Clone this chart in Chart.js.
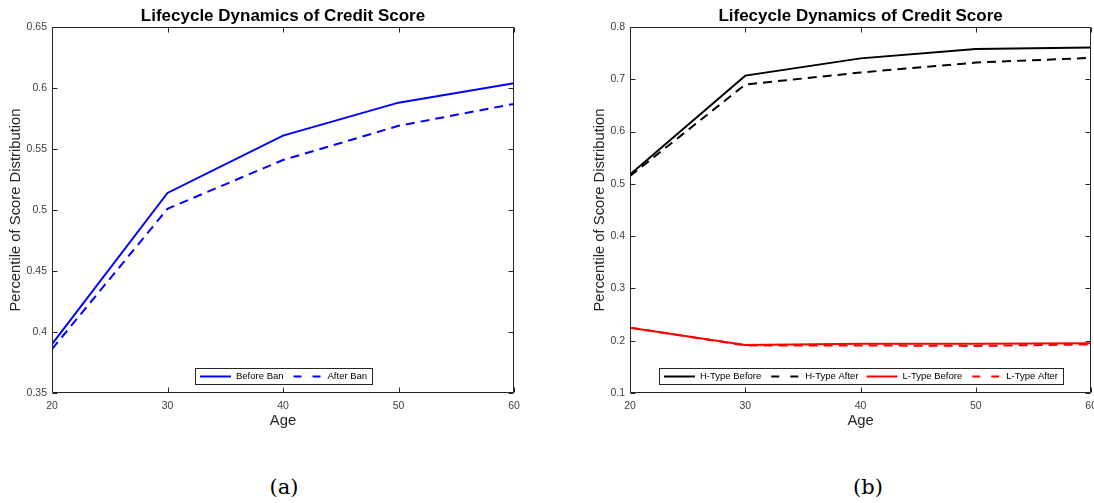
<!DOCTYPE html>
<html>
<head>
<meta charset="utf-8">
<script src="https://cdn.jsdelivr.net/npm/chart.js@4/dist/chart.umd.min.js"></script>
<style>
  html, body { margin: 0; padding: 0; background: #fff; }
  body { width: 1094px; height: 503px; position: relative; overflow: hidden; }
  canvas { position: absolute; top: 0; }
  #c1 { left: 0; }
  #c2 { left: 577px; }
  .cap { position: absolute; top: 475px; font-family: "DejaVu Serif", "Liberation Serif", serif; font-size: 21px; color: #000; transform: translateX(-50%); }
</style>
</head>
<body>
<canvas id="c1" width="547" height="440"></canvas>
<canvas id="c2" width="527" height="440"></canvas>
<div class="cap" style="left:284px">(a)</div>
<div class="cap" style="left:868px">(b)</div>
<script>
// ---- Data ----
const ages = [20, 30, 40, 50, 60];
const beforeBan = [0.390, 0.514, 0.561, 0.588, 0.604];
const afterBan  = [0.386, 0.501, 0.541, 0.569, 0.587];

const hTypeBefore = [0.518, 0.707, 0.740, 0.758, 0.761];
const hTypeAfter  = [0.515, 0.690, 0.713, 0.732, 0.741];
const lTypeBefore = [0.225, 0.192, 0.194, 0.194, 0.195];
const lTypeAfter  = [0.225, 0.191, 0.191, 0.190, 0.193];

const leftTicksY = [0.35, 0.4, 0.45, 0.5, 0.55, 0.6, 0.65];
const rightTicksY = [0.1, 0.2, 0.3, 0.4, 0.5, 0.6, 0.7, 0.8];

const chartTitle = 'Lifecycle Dynamics of Credit Score';
const xTitle = 'Age';
const yTitle = 'Percentile of Score Distribution';

// ---- Setup ----
const FONT = '"Liberation Sans", Arial, Helvetica, sans-serif';
Chart.defaults.font.family = FONT;
Chart.defaults.devicePixelRatio = 1;

const pts = (vals) => ages.map((a, i) => ({ x: a, y: vals[i] }));

const frame = {
  id: 'frame',
  afterDraw(chart) {
    const { ctx, chartArea: a, scales } = chart;
    ctx.save();
    // title centred over the plot box
    ctx.fillStyle = '#000';
    ctx.font = 'bold 17px ' + FONT;
    ctx.textAlign = 'center';
    ctx.textBaseline = 'alphabetic';
    ctx.fillText(chart.options.plugins.boxTitle.text, (a.left + a.right) / 2, a.top - 6);

    ctx.strokeStyle = '#262626';
    ctx.lineWidth = 1;
    ctx.setLineDash([]);
    ctx.beginPath();
    const L = Math.round(a.left) + 0.5, R = Math.round(a.right) - 0.5;
    const T = Math.round(a.top) + 0.5, B = Math.round(a.bottom) - 0.5;
    ctx.rect(L, T, R - L, B - T);
    const tl = 5;
    scales.x.ticks.forEach(t => {
      const px = Math.round(scales.x.getPixelForValue(t.value)) + 0.5;
      ctx.moveTo(px, B); ctx.lineTo(px, B - tl);
      ctx.moveTo(px, T); ctx.lineTo(px, T + tl);
    });
    scales.y.ticks.forEach(t => {
      const py = Math.round(scales.y.getPixelForValue(t.value)) + 0.5;
      ctx.moveTo(L, py); ctx.lineTo(L + tl, py);
      ctx.moveTo(R, py); ctx.lineTo(R - tl, py);
    });
    ctx.stroke();
    ctx.restore();
  }
};

const boxLegend = {
  id: 'boxLegend',
  afterDraw(chart) {
    const { ctx, chartArea: a } = chart;
    ctx.save();
    ctx.font = '9.5px ' + FONT;
    const sw = 31, gap = 5, sep = 8, pad = 5, h = 16;
    const ds = chart.data.datasets;
    const widths = ds.map(d => ctx.measureText(d.label).width);
    const total = Math.round(pad * 2 + widths.reduce((s, w) => s + sw + gap + w, 0) + sep * (ds.length - 1));
    const x0 = Math.round((a.left + a.right) / 2 - total / 2);
    const y0 = Math.round(a.bottom - 9 - h);
    ctx.fillStyle = '#fff';
    ctx.fillRect(x0, y0, total, h);
    ctx.strokeStyle = '#262626';
    ctx.lineWidth = 1;
    ctx.strokeRect(x0 + 0.5, y0 + 0.5, total, h);
    let x = x0 + pad;
    const yc = y0 + h / 2 + 0.5;
    ds.forEach((d, i) => {
      ctx.strokeStyle = d.borderColor;
      ctx.lineWidth = 2;
      ctx.beginPath();
      if (d.borderDash && d.borderDash.length) {
        ctx.setLineDash([8, 11]);
        ctx.moveTo(x + 2, yc); ctx.lineTo(x + 2 + 27, yc);
      } else {
        ctx.setLineDash([]);
        ctx.moveTo(x, yc); ctx.lineTo(x + sw, yc);
      }
      ctx.stroke();
      ctx.setLineDash([]);
      x += sw + gap;
      ctx.fillStyle = '#000';
      ctx.textBaseline = 'middle';
      ctx.textAlign = 'left';
      ctx.fillText(d.label, x, yc);
      x += widths[i] + sep;
    });
    ctx.restore();
  }
};

function makeChart(id, datasets, yMin, yMax, yTicks, yTitlePad, yWidth, padRight) {
  return new Chart(document.getElementById(id), {
    type: 'line',
    data: { datasets },
    options: {
      responsive: false,
      animation: false,
      devicePixelRatio: 1,
      layout: { padding: { left: 0, right: padRight, top: 27, bottom: 0 } },
      plugins: {
        legend: { display: false },
        tooltip: { enabled: false },
        title: { display: false },
        boxTitle: { text: chartTitle }
      },
      elements: { point: { radius: 0 }, line: { tension: 0, borderWidth: 2 } },
      scales: {
        x: {
          type: 'linear', min: 20, max: 60,
          afterBuildTicks: (s) => { s.ticks = ages.map(v => ({ value: v })); },
          ticks: { padding: 7, color: '#404040', font: { size: 10.5 }, maxRotation: 0, autoSkip: false,
                   callback: (v) => String(v) },
          grid: { display: false, drawTicks: false },
          border: { display: false },
          title: { display: true, text: xTitle, color: '#262626', font: { size: 14.8 }, padding: { top: 0, bottom: 10 } },
          afterFit: (s) => { s.height = 47; }
        },
        y: {
          type: 'linear', min: yMin, max: yMax,
          afterBuildTicks: (s) => { s.ticks = yTicks.map(v => ({ value: v })); },
          ticks: { padding: 5, color: '#404040', font: { size: 10.5 }, autoSkip: false,
                   callback: (v) => String(+v.toFixed(2)) },
          grid: { display: false, drawTicks: false },
          border: { display: false },
          title: { display: true, text: yTitle, color: '#262626', font: { size: 14.8 }, padding: { top: yTitlePad, bottom: 0 } },
          afterFit: (s) => { s.width = yWidth; }
        }
      }
    },
    plugins: [frame, boxLegend]
  });
}

makeChart('c1', [
  { label: 'Before Ban', data: pts(beforeBan), borderColor: '#0000ff', backgroundColor: '#0000ff', borderWidth: 2 },
  { label: 'After Ban', data: pts(afterBan), borderColor: '#0000ff', backgroundColor: '#0000ff', borderWidth: 2, borderDash: [9, 6] }
], 0.35, 0.65, leftTicksY, 7, 52, 33);

makeChart('c2', [
  { label: 'H-Type Before', data: pts(hTypeBefore), borderColor: '#000000', backgroundColor: '#000000', borderWidth: 2 },
  { label: 'H-Type After', data: pts(hTypeAfter), borderColor: '#000000', backgroundColor: '#000000', borderWidth: 2, borderDash: [9, 6] },
  { label: 'L-Type Before', data: pts(lTypeBefore), borderColor: '#ff0000', backgroundColor: '#ff0000', borderWidth: 2 },
  { label: 'L-Type After', data: pts(lTypeAfter), borderColor: '#ff0000', backgroundColor: '#ff0000', borderWidth: 2, borderDash: [9, 6] }
], 0.1, 0.8, rightTicksY, 14, 53, 11);
</script>
</body>
</html>
